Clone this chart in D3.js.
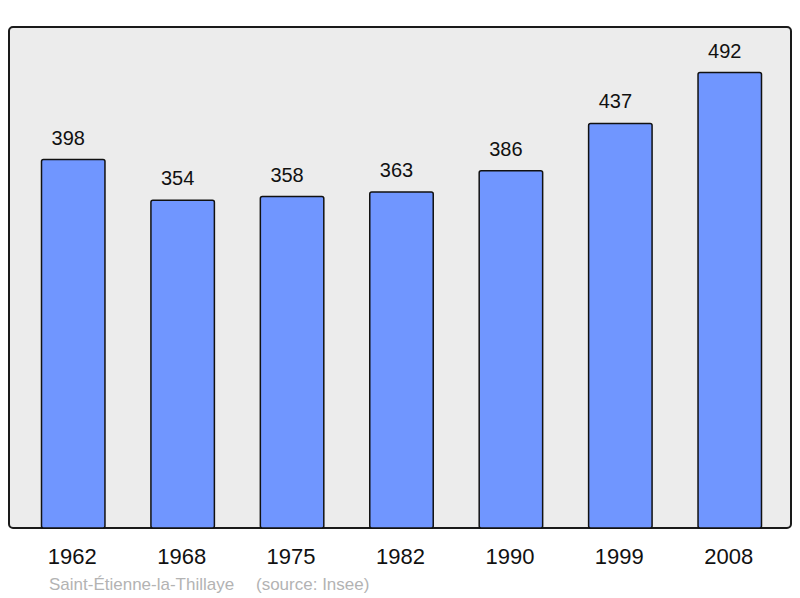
<!DOCTYPE html>
<html>
<head>
<meta charset="utf-8">
<script src="https://cdn.jsdelivr.net/npm/d3@7"></script>
<style>
  body { margin: 0; background: #fff; }
  text { font-family: "Liberation Sans", Arial, sans-serif; }
</style>
</head>
<body>
<svg id="chart" width="800" height="598"></svg>
<script>
const years = ["1962", "1968", "1975", "1982", "1990", "1999", "2008"];
const population = [398, 354, 358, 363, 386, 437, 492];
const commune = "Saint-Étienne-la-Thillaye";
const source = "(source: Insee)";

const data = years.map((y, i) => ({ year: y, value: population[i] }));

const svg = d3.select("#chart");
const box = { left: 9, top: 27, right: 791, bottom: 528 };

svg.append("rect")
    .attr("x", box.left)
    .attr("y", box.top)
    .attr("width", box.right - box.left)
    .attr("height", box.bottom - box.top)
    .attr("rx", 4)
    .attr("fill", "#ececec")
    .attr("stroke", "#1a1a1a")
    .attr("stroke-width", 2);

const xScale = d3.scaleBand()
    .domain(years)
    .range([41.5, 761.5])
    .paddingInner(0.42)
    .paddingOuter(0);

const yScale = d3.scaleLinear()
    .domain([0, d3.max(population) * 1.1])
    .range([box.bottom, box.top]);

svg.selectAll(".bar")
    .data(data)
    .enter().append("rect")
    .attr("class", "bar")
    .attr("x", d => xScale(d.year))
    .attr("y", d => yScale(d.value))
    .attr("width", xScale.bandwidth())
    .attr("height", d => box.bottom - yScale(d.value))
    .attr("rx", 2)
    .attr("fill", "#7096ff")
    .attr("stroke", "#111")
    .attr("stroke-width", 1.5);

// value labels sit a little left of the bar centre in the original
svg.selectAll(".label")
    .data(data)
    .enter().append("text")
    .attr("class", "label")
    .attr("x", d => xScale(d.year) + xScale.bandwidth() / 2 - 5)
    .attr("y", d => yScale(d.value) - 15)
    .attr("text-anchor", "middle")
    .style("font-size", "20px")
    .style("fill", "#111")
    .text(d => d.value);

svg.selectAll(".year")
    .data(data)
    .enter().append("text")
    .attr("class", "year")
    .attr("x", d => xScale(d.year) + xScale.bandwidth() / 2 - 1)
    .attr("y", 564)
    .attr("text-anchor", "middle")
    .style("font-size", "22px")
    .style("fill", "#111")
    .text(d => d.year);

svg.append("text")
    .attr("x", 49)
    .attr("y", 590)
    .style("font-size", "17px")
    .style("fill", "#b3b3b3")
    .text(commune);

svg.append("text")
    .attr("x", 256)
    .attr("y", 590)
    .style("font-size", "17px")
    .style("fill", "#b3b3b3")
    .text(source);
</script>
</body>
</html>
